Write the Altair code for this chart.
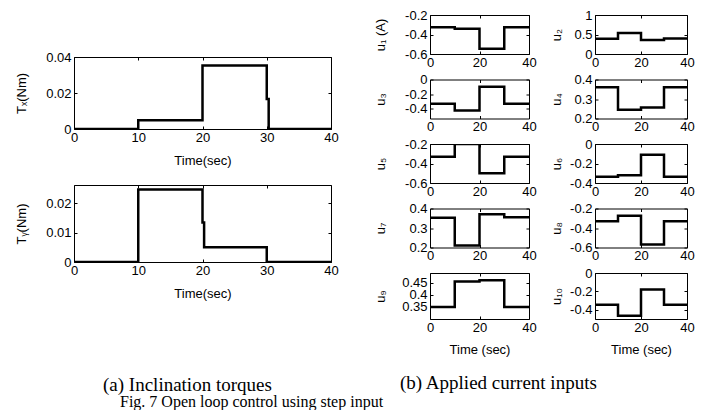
import altair as alt
import pandas as pd

FONT = "Liberation Sans"
SERIF = "Liberation Serif"

X_DOMAIN = [0, 40]
LEFT_XTICKS = [0, 10, 20, 30, 40]
RIGHT_XTICKS = [0, 20, 40]

# Inclination torques (breakpoints of the step signal)
TX_TIME = [0, 10, 20, 30, 30.3, 40]
TX_VALUE = [0, 0.0048, 0.0353, 0.0167, 0, 0]
TX_DOMAIN = [0, 0.04]
TX_TICKS = [0, 0.02, 0.04]

TY_TIME = [0, 10, 20, 20.25, 30, 40]
TY_VALUE = [0, 0.0248, 0.0135, 0.005, 0, 0]
TY_DOMAIN = [0, 0.0263]
TY_TICKS = [0, 0.01, 0.02]

# Applied current inputs: levels on 0-10, 10-20, 20-30, 30-40 s
U_TIME = [0, 10, 20, 30, 40]
U_LABELS = ["u₁ (A)", "u₂", "u₃", "u₄", "u₅", "u₆", "u₇", "u₈", "u₉", "u₁₀"]
U_LEVELS = [
    [-0.325, -0.34, -0.545, -0.325],
    [0.39, 0.54, 0.36, 0.40],
    [-0.33, -0.42, -0.10, -0.33],
    [0.36, 0.245, 0.257, 0.36],
    [-0.33, -0.20, -0.50, -0.33],
    [-0.335, -0.32, -0.11, -0.335],
    [0.352, 0.21, 0.37, 0.355],
    [-0.33, -0.275, -0.57, -0.33],
    [0.35, 0.455, 0.46, 0.35],
    [-0.345, -0.465, -0.18, -0.345],
]
U_DOMAINS = [
    [-0.6, -0.2], [0, 1], [-0.53, 0], [0.2, 0.4], [-0.6, -0.2],
    [-0.4, 0], [0.2, 0.4], [-0.6, -0.2], [0.3, 0.49], [-0.5, 0],
]
U_TICKS = [
    [-0.6, -0.4, -0.2], [0, 0.5, 1], [-0.4, -0.2, 0], [0.2, 0.3, 0.4], [-0.6, -0.4, -0.2],
    [-0.4, -0.2, 0], [0.2, 0.3, 0.4], [-0.6, -0.4, -0.2], [0.35, 0.4, 0.45], [-0.4, -0.2, 0],
]

TICK = dict(grid=False, domain=False, offset=-3, tickSize=3, tickColor="black", tickWidth=1)


def panel(times, values, ydomain, yticks, xticks, ytitle, xtitle, width, height, yext, xpad):
    df = pd.DataFrame({"t": times, "v": values})
    xs = alt.Scale(domain=X_DOMAIN, nice=False, zero=False)
    ys = alt.Scale(domain=ydomain, nice=False, zero=False)
    xkw = dict(orient="bottom", values=xticks, labelExpr="'' + datum.value", labelPadding=2, **TICK)
    if xtitle:
        xkw.update(title=xtitle, titlePadding=xpad, minExtent=21, maxExtent=21)
    else:
        xkw.update(title=None)
    main = alt.Chart(df).mark_line(
        interpolate="step-after", color="black", strokeWidth=2.5, clip=True
    ).encode(
        x=alt.X("t:Q", scale=xs, axis=alt.Axis(**xkw)),
        y=alt.Y("v:Q", scale=ys, axis=alt.Axis(
            orient="left", values=yticks, labelExpr="'' + datum.value", labelPadding=3,
            title=ytitle, titlePadding=0, minExtent=yext, maxExtent=yext, **TICK)),
    )
    inner = alt.Chart(df).mark_line(strokeOpacity=0).encode(
        x=alt.X("t:Q", scale=xs, axis=alt.Axis(orient="top", values=xticks, labels=False, title=None, **TICK)),
        y=alt.Y("v:Q", scale=ys, axis=alt.Axis(orient="right", values=yticks, labels=False, title=None,
                                               minExtent=0, **TICK)),
    )
    return alt.layer(main, inner).resolve_axis(x="independent", y="independent").properties(
        width=width, height=height)


spacer = alt.Chart(pd.DataFrame({"t": [0]})).mark_point(opacity=0).encode(
    x=alt.X("t:Q", axis=None), y=alt.Y("t:Q", axis=None)
).properties(width=257, height=20, view=alt.ViewBackground(stroke="transparent"))

tx = panel(TX_TIME, TX_VALUE, TX_DOMAIN, TX_TICKS, LEFT_XTICKS, "Tₓ(Nm)", "Time(sec)", 257, 72, 49, 7)
ty = panel(TY_TIME, TY_VALUE, TY_DOMAIN, TY_TICKS, LEFT_XTICKS, "Tᵧ(Nm)", "Time(sec)", 257, 77, 49, 7)

left = alt.vconcat(
    spacer,
    alt.vconcat(tx, ty, spacing=16),
    spacing=14,
    title=alt.TitleParams("(a) Inclination torques", orient="bottom", anchor="start", frame="group",
                          dx=29, offset=75, font=SERIF, fontSize=19, fontWeight="normal", color="black"),
)

rows = []
for r in range(5):
    cells = []
    for c in range(2):
        i = 2 * r + c
        h = 46 if r == 4 else 39
        w = 99 if c == 0 else 92
        ext = 46 if c == 0 else 35
        xt = "Time (sec)" if r == 4 else None
        lv = U_LEVELS[i]
        cells.append(panel(U_TIME, lv + [lv[-1]], U_DOMAINS[i], U_TICKS[i], RIGHT_XTICKS,
                           U_LABELS[i], xt, w, h, ext, 6))
    rows.append(alt.hconcat(*cells, spacing=66, bounds="flush"))

right = alt.vconcat(
    *rows, spacing=2.5,
    title=alt.TitleParams("(b) Applied current inputs", orient="bottom", anchor="start", frame="group",
                          dx=-30, offset=17, font=SERIF, fontSize=19, fontWeight="normal", color="black"),
)

chart = alt.hconcat(
    left, right, spacing=34,
    title=alt.TitleParams("Fig. 7 Open loop control using step input", orient="bottom", anchor="start",
                          frame="group", dx=46, offset=-1, font=SERIF, fontSize=16, fontWeight="normal",
                          color="black"),
).properties(
    padding={"left": 6, "top": 0, "right": 0, "bottom": 0}
).configure_view(
    stroke="black", strokeWidth=1
).configure_axis(
    labelFont=FONT, labelFontSize=13, labelColor="black", labelOverlap=False, labelFlush=False,
    titleFont=FONT, titleFontSize=13, titleFontWeight="normal", titleColor="black",
)

chart.save("out.html", embed_options={"renderer": "svg", "actions": False})
